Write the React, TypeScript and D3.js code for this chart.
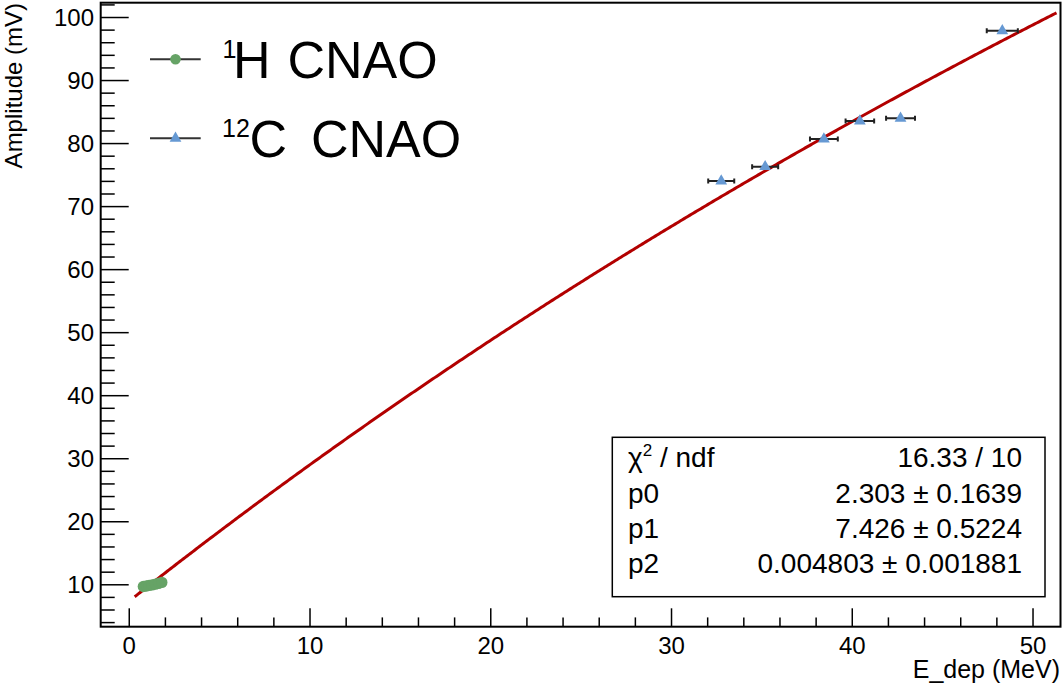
import React from 'react';
import * as d3 from 'd3';

// ---- data ----
const protonE = [0.78, 0.95, 1.1, 1.27, 1.45, 1.62, 1.8];
const protonAmp = [9.72, 9.8, 9.9, 9.98, 10.1, 10.22, 10.38];

const carbonE = [32.75, 35.18, 38.43, 40.42, 42.67, 48.3];
const carbonAmp = [74.06, 76.33, 80.72, 83.57, 84.0, 97.9];
const carbonErrE = [0.72, 0.72, 0.77, 0.79, 0.8, 0.86];

// fit: f(x) = (p0*x + p1) / (1 + p2*x)
const fitParams = [2.303, 7.426, 0.004803];
const fitRange = [0.3, 51.3];

const xDomain = [-1.58, 51.52];
const yDomain = [3.35, 102.35];
const xMajorTicks = [0, 10, 20, 30, 40, 50];
const yMajorTicks = [10, 20, 30, 40, 50, 60, 70, 80, 90, 100];

const statsNames = ['χ2 / ndf', 'p0', 'p1', 'p2'];
const statsValues = ['16.33 / 10', '2.303 ± 0.1639', '7.426 ± 0.5224', '0.004803 ± 0.001881'];

const legendSup = ['1', '12'];
const legendLetter = ['H', 'C'];
const legendRest = ['CNAO', 'CNAO'];

const xTitle = 'E_dep (MeV)';
const yTitle = 'Amplitude (mV)';

// ---- styles ----
const FONT = '"Liberation Sans", Arial, Helvetica, sans-serif';
const GREEN = '#66a366';
const BLUE = '#6699d3';
const RED = '#b20000';

export default function App() {
  const W = 1063, H = 685;
  const frame = { left: 100.7, right: 1060.5, top: 2.7, bottom: 626.7 };
  const x = d3.scaleLinear().domain(xDomain).range([frame.left, frame.right]);
  const y = d3.scaleLinear().domain(yDomain).range([frame.bottom, frame.top]);

  const f = (e: number) => (fitParams[0] * e + fitParams[1]) / (1 + fitParams[2] * e);
  const fitXs = d3.range(fitRange[0], fitRange[1] + 1e-9, 0.1);
  const line = d3.line<number>().x((d) => x(d)).y((d) => y(f(d)));

  const xMinor = d3.range(-2, 52.01, 2).filter((v) => v >= xDomain[0] && v <= xDomain[1] && !xMajorTicks.includes(v));
  const yMinor = d3.range(4, 103, 2).filter((v) => v >= yDomain[0] && v <= yDomain[1] && !yMajorTicks.includes(v));

  const tri = d3.symbol().type(d3.symbolTriangle).size(60)();

  const legendRows = [
    { yLine: 59.3, kind: 'circle', supX: 222.5, letterX: 233, restX: 287.5 },
    { yLine: 138.3, kind: 'tri', supX: 222, letterX: 249.4, restX: 311 },
  ];
  const legendFont = 52;
  const supFont = 25;

  const statsBox = { x0: 612.3, x1: 1045, y0: 437.3, y1: 596.7 };
  const statsBaselines = [466.7, 502.7, 537.7, 573.3];

  return (
    <div style={{ position: 'absolute', left: 0, top: 0 }}>
      <svg width={W} height={H} style={{ display: 'block', background: '#fff' }} fontFamily={FONT}>
        <defs>
          <clipPath id="frameclip">
            <rect x={frame.left} y={frame.top} width={frame.right - frame.left} height={frame.bottom - frame.top} />
          </clipPath>
        </defs>
        <rect x={0} y={0} width={W} height={H} fill="#fff" />

        {/* x ticks */}
        {xMajorTicks.map((t) => (
          <line key={'xM' + t} x1={x(t)} x2={x(t)} y1={frame.bottom} y2={frame.bottom - 18.4} stroke="#000" strokeWidth={1.5} />
        ))}
        {xMinor.map((t) => (
          <line key={'xm' + t} x1={x(t)} x2={x(t)} y1={frame.bottom} y2={frame.bottom - 9.3} stroke="#000" strokeWidth={1.5} />
        ))}
        {xMajorTicks.map((t) => (
          <text key={'xl' + t} x={x(t)} y={654} fontSize={24} textAnchor="middle" fill="#000">{t}</text>
        ))}

        {/* y ticks */}
        {yMajorTicks.map((t) => (
          <line key={'yM' + t} x1={frame.left} x2={frame.left + 28} y1={y(t)} y2={y(t)} stroke="#000" strokeWidth={1.5} />
        ))}
        {yMinor.map((t) => (
          <line key={'ym' + t} x1={frame.left} x2={frame.left + 14} y1={y(t)} y2={y(t)} stroke="#000" strokeWidth={1.5} />
        ))}
        {yMajorTicks.map((t) => (
          <text key={'yl' + t} x={94} y={y(t) + 8.6} fontSize={24} textAnchor="end" fill="#000">{t}</text>
        ))}

        {/* frame */}
        <rect x={frame.left} y={frame.top} width={frame.right - frame.left} height={frame.bottom - frame.top} fill="none" stroke="#000" strokeWidth={2} />

        {/* axis titles */}
        <text x={1060} y={678} fontSize={25} textAnchor="end" fill="#000">{xTitle}</text>
        <text transform="translate(22,3) rotate(-90)" fontSize={24} textAnchor="end" fill="#000">{yTitle}</text>

        <g clipPath="url(#frameclip)">
          {/* fit curve */}
          <path d={line(fitXs) || ''} fill="none" stroke={RED} strokeWidth={3} />

          {/* proton points */}
          {protonE.map((e, i) => (
            <circle key={'p' + i} cx={x(e)} cy={y(protonAmp[i])} r={5.7} fill={GREEN} />
          ))}

          {/* carbon error bars */}
          {carbonE.map((e, i) => {
            const yy = y(carbonAmp[i]);
            const xa = x(e - carbonErrE[i]);
            const xb = x(e + carbonErrE[i]);
            return (
              <g key={'ce' + i} stroke="#222" strokeWidth={2}>
                <line x1={xa} x2={xb} y1={yy} y2={yy} />
                <line x1={xa} x2={xa} y1={yy - 2.5} y2={yy + 2.5} />
                <line x1={xb} x2={xb} y1={yy - 2.5} y2={yy + 2.5} />
              </g>
            );
          })}
          {/* carbon points */}
          {carbonE.map((e, i) => (
            <path key={'c' + i} d={tri || ''} transform={`translate(${x(e)},${y(carbonAmp[i])})`} fill={BLUE} />
          ))}
        </g>

        {/* legend */}
        {legendRows.map((r, i) => {
          const base = r.yLine + (legendFont * 0.716) / 2;
          return (
            <g key={'lg' + i}>
              <line x1={150} x2={200.7} y1={r.yLine} y2={r.yLine} stroke="#333" strokeWidth={2} />
              {r.kind === 'circle' ? (
                <circle cx={175.5} cy={r.yLine} r={5.3} fill={GREEN} />
              ) : (
                <path d={tri || ''} transform={`translate(175.5,${r.yLine})`} fill={BLUE} />
              )}
              <text x={r.supX} y={base - 19.5} fontSize={supFont} fill="#000">{legendSup[i]}</text>
              <text x={r.letterX} y={base} fontSize={legendFont} fill="#000">{legendLetter[i]}</text>
              <text x={r.restX} y={base} fontSize={legendFont} fill="#000">{legendRest[i]}</text>
            </g>
          );
        })}

        {/* stats box */}
        <rect x={statsBox.x0} y={statsBox.y0} width={statsBox.x1 - statsBox.x0} height={statsBox.y1 - statsBox.y0} fill="#fff" stroke="#000" strokeWidth={1.5} />
        {statsNames.map((n, i) => (
          <text key={'sn' + i} x={628} y={statsBaselines[i]} fontSize={28} fill="#000">
            {i === 0 ? (
              <>
                <tspan>χ</tspan>
                <tspan fontSize={17} dy={-11}>2</tspan>
                <tspan dy={11}> / ndf</tspan>
              </>
            ) : n}
          </text>
        ))}
        {statsValues.map((v, i) => (
          <text key={'sv' + i} x={1022} y={statsBaselines[i]} fontSize={28} textAnchor="end" fill="#000">{v}</text>
        ))}
      </svg>
    </div>
  );
}
